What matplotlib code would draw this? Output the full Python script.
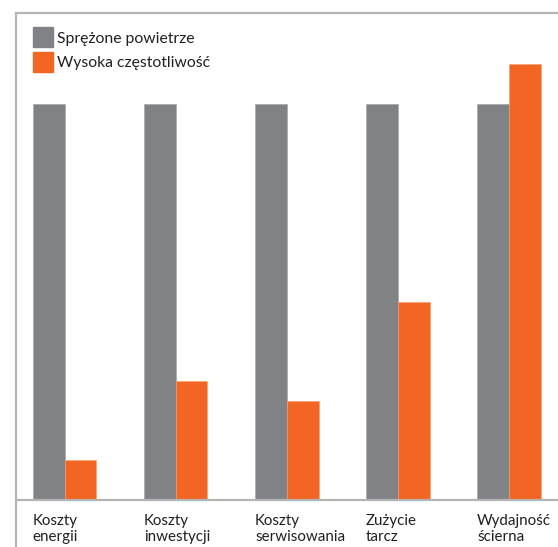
import matplotlib.pyplot as plt
import numpy as np

# ---------------------------------------------------------------------
# Data (relative index, compressed air = 100)
# ---------------------------------------------------------------------
categories = ["Koszty\nenergii", "Koszty\ninwestycji", "Koszty\nserwisowania",
              "Zużycie\ntarcz", "Wydajność\nścierna"]
air_values = [100, 100, 100, 100, 100]
hf_values = [10, 30, 25, 50, 110]
series_names = ["Sprężone powietrze", "Wysoka częstotliwość"]

GRAY = "#818285"
ORANGE = "#F26522"
FRAME = "#b4b4b4"
TEXT = "#231f20"

plt.rcParams["font.family"] = ["Lato", "DejaVu Sans"]

fig = plt.figure(figsize=(5.58, 5.47), dpi=100)
# frame box: left at 16px, top at 13px, runs off right and bottom
ax = fig.add_axes([16 / 558, 0, 1 - 16 / 558 + 0.01, 1 - 13 / 547])

x = np.arange(len(categories))
w = 32 / 112
ax.bar(x - w / 2, air_values, width=w, color=GRAY, edgecolor="#a0a0a0", linewidth=0.4)
ax.bar(x + w / 2, hf_values, width=w, color=ORANGE, edgecolor="#f7a070", linewidth=0.4)

# pixel scale: 112 px per group, 3.96 px per unit
ax.set_xlim((16 - 65) / 112, (558 - 65) / 112 + 0.09)
ax.set_ylim(-47 / 3.96, (500 - 13) / 3.96)

ax.axhline(0, color=FRAME, linewidth=1.6)
for side in ["left", "top"]:
    ax.spines[side].set_color(FRAME)
    ax.spines[side].set_linewidth(1.6)
for side in ["right", "bottom"]:
    ax.spines[side].set_visible(False)
ax.set_xticks([])
ax.set_yticks([])

# category labels, left aligned under each group
for i, lab in enumerate(categories):
    ax.text(i - w, -3.5, lab, ha="left", va="top", fontsize=10.9,
            color=TEXT, linespacing=1.2)

# legend drawn by hand: squares + text
sq = 20
for j, (name, col) in enumerate(zip(series_names, [GRAY, ORANGE])):
    top = 27 + j * 25
    fig.patches.append(plt.Rectangle((33 / 558, 1 - (top + sq) / 547), sq / 558, sq / 547,
                                     transform=fig.transFigure, color=col))
    fig.text(57 / 558, 1 - (top + sq / 2 + 1.5) / 547, name, ha="left", va="center",
             fontsize=11.3, color=TEXT)

fig.savefig("out.png", dpi=100)
